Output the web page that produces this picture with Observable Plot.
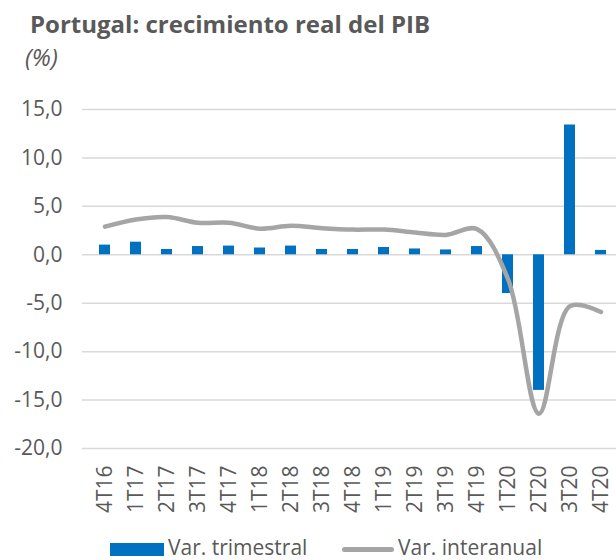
<!DOCTYPE html>
<html>
<head>
<meta charset="utf-8">
<script src="https://cdn.jsdelivr.net/npm/d3@7"></script>
<script src="https://cdn.jsdelivr.net/npm/@observablehq/plot@0.6"></script>
<style>
  body { margin: 0; overflow: hidden; background: #fff; font-family: "Open Sans", sans-serif; }
  #wrap { position: relative; width: 616px; height: 560px; overflow: hidden; }
  #wrap svg { position: absolute; left: 0; top: 0; }
  .title { position: absolute; left: 30px; top: 12px; font-size: 24px; font-weight: 700; color: #595959; line-height: 1; white-space: nowrap; }
  .sub { position: absolute; left: 25px; top: 45px; font-size: 24px; font-style: italic; color: #595959; line-height: 1; }
  .leg { position: absolute; top: 537px; font-size: 21px; color: #595959; line-height: 1; white-space: nowrap; }
  .sw { position: absolute; }
</style>
</head>
<body>
<div id="wrap">
  <div class="title">Portugal: crecimiento real del PIB</div>
  <div class="sub">(%)</div>
</div>
<script>
const categories = ["4T16","1T17","2T17","3T17","4T17","1T18","2T18","3T18","4T18","1T19","2T19","3T19","4T19","1T20","2T20","3T20","4T20"];
const trimestral = [1.0, 1.3, 0.55, 0.85, 0.9, 0.7, 0.9, 0.55, 0.55, 0.75, 0.6, 0.5, 0.85, -4.0, -14.0, 13.4, 0.45];
const interanual = [2.9, 3.65, 3.9, 3.3, 3.3, 2.7, 3.0, 2.75, 2.6, 2.6, 2.3, 2.05, 2.65, -2.5, -16.4, -5.3, -5.9];
const yTicks = [-20, -15, -10, -5, 0, 5, 10, 15];
const seriesNames = ["Var. trimestral", "Var. interanual"];
const colors = ["#0070C0", "#A5A5A5"];

const data = categories.map((c, i) => ({cat: c, q: trimestral[i], a: interanual[i]}));
const fmt = d => d.toFixed(1).replace(".", ",");

const chart = Plot.plot({
  width: 616,
  height: 560,
  marginLeft: 82,
  marginRight: -7,
  marginTop: 109,
  marginBottom: 112,
  style: {fontFamily: "Open Sans, sans-serif", color: "#595959", background: "transparent", overflow: "visible"},
  x: {domain: categories, paddingInner: 0.65, paddingOuter: 0.325},
  y: {domain: [-20, 15]},
  marks: [
    Plot.ruleY(yTicks, {stroke: "#D9D9D9", strokeWidth: 1.5}),
    Plot.barY(data, {x: "cat", y1: 0, y2: "q", fill: colors[0]}),
    Plot.line(data, {x: "cat", y: "a", stroke: colors[1], strokeWidth: 4.5, curve: "catmull-rom", strokeLinecap: "round"}),
    Plot.axisY({ticks: yTicks, tickFormat: fmt, tickSize: 0, tickPadding: 20, fontSize: 21, fill: "#595959", label: null}),
    Plot.axisX({tickSize: 0, tickPadding: 17, tickRotate: -90, fontSize: 21, fill: "#595959", label: null})
  ]
});
const wrap = document.getElementById("wrap");
wrap.insertBefore(chart, wrap.firstChild);

// legend
const legItems = [
  {name: seriesNames[0], color: colors[0], type: "bar", swX: 110, txtX: 168},
  {name: seriesNames[1], color: colors[1], type: "line", swX: 342, txtX: 398}
];
legItems.forEach(it => {
  const sw = document.createElement("div");
  sw.className = "sw";
  if (it.type === "bar") {
    Object.assign(sw.style, {left: it.swX + "px", top: "543px", width: "54px", height: "13px", background: it.color});
  } else {
    Object.assign(sw.style, {left: it.swX + "px", top: "547px", width: "52px", height: "5px", background: it.color, borderRadius: "3px"});
  }
  wrap.appendChild(sw);
  const t = document.createElement("div");
  t.className = "leg";
  t.style.left = it.txtX + "px";
  t.textContent = it.name;
  wrap.appendChild(t);
});
</script>
</body>
</html>
